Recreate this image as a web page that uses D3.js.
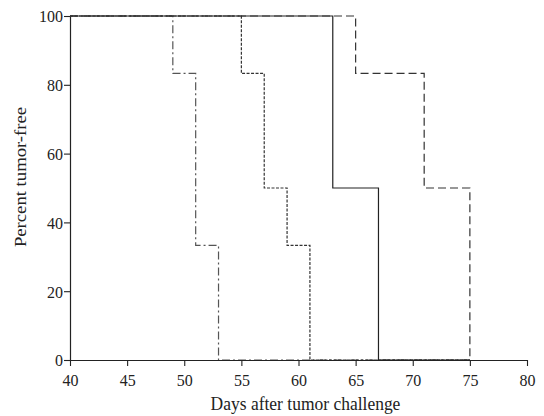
<!DOCTYPE html>
<html>
<head>
<meta charset="utf-8">
<script src="https://cdn.jsdelivr.net/npm/d3@7"></script>
<style>
  body { margin: 0; background: #fff; }
  text { font-family: "Liberation Serif", "Times New Roman", serif; }
</style>
</head>
<body>
<div id="chart"></div>
<script>
// step points: [day, percent] for each group
const groupA = [[40, 100], [49, 100], [49, 83.3], [51, 83.3], [51, 33.3], [53, 33.3], [53, 0], [75, 0]];
const groupB = [[40, 100], [55, 100], [55, 83.3], [57, 83.3], [57, 50], [59, 50], [59, 33.3], [61, 33.3], [61, 0], [75, 0]];
const groupC = [[40, 100], [63, 100], [63, 50], [67, 50], [67, 0], [75, 0]];
const groupD = [[40, 100], [65, 100], [65, 83.3], [71, 83.3], [71, 50], [75, 50], [75, 0]];
const xTicks = [40, 45, 50, 55, 60, 65, 70, 75, 80];
const yTicks = [0, 20, 40, 60, 80, 100];

let margin = { top: 16, right: 17, bottom: 56, left: 70 };
let width = 544 - margin.left - margin.right;
let height = 416 - margin.top - margin.bottom;
let stretch = 1.1; // text in the original is a bit taller than wide

let svg = d3.select("#chart")
    .append("svg")
    .attr("width", 544)
    .attr("height", 416)
    .append("g")
    .attr("transform", "translate(" + margin.left + "," + margin.top + ")");

let x = d3.scaleLinear().domain([40, 80]).range([0, width]);
let y = d3.scaleLinear().domain([0, 100]).range([height, 0]);

let line = d3.line()
    .x(d => x(d[0]))
    .y(d => y(d[1]));

let series = [
    { data: groupA, dash: "8,3,2,3", color: "#555" },
    { data: groupB, dash: "3,1.5", color: "#333" },
    { data: groupC, dash: null, color: "#222" },
    { data: groupD, dash: "8,4", color: "#333" }
];

series.forEach(s => {
    svg.append("path")
        .datum(s.data)
        .attr("d", line)
        .attr("fill", "none")
        .attr("stroke", s.color)
        .attr("stroke-width", 1.2)
        .attr("stroke-dasharray", s.dash);
});

let xAxis = svg.append("g")
    .attr("transform", "translate(0," + height + ")")
    .call(d3.axisBottom(x).tickValues(xTicks).tickSize(6).tickSizeOuter(0).tickFormat(d3.format("d")));
let yAxis = svg.append("g")
    .call(d3.axisLeft(y).tickValues(yTicks).tickSize(6).tickSizeOuter(0));

[xAxis, yAxis].forEach(a => {
    a.select(".domain").attr("stroke", "#222").attr("stroke-width", 1.2);
    a.selectAll(".tick line").attr("stroke", "#222").attr("stroke-width", 1.1);
    a.selectAll(".tick text")
        .attr("font-size", 16)
        .attr("fill", "#222")
        .style("font-family", "'Liberation Serif', serif");
});
xAxis.selectAll(".tick text")
    .attr("y", 0)
    .attr("dy", 0)
    .attr("transform", "translate(0,26) scale(1," + stretch + ")");
yAxis.selectAll(".tick text")
    .attr("x", 0)
    .attr("dy", "0.33em")
    .attr("transform", "translate(-7,0) scale(1," + stretch + ")");

svg.append("text")
    .attr("transform", "translate(" + (width / 2 + 7) + "," + (height + 50) + ") scale(1," + stretch + ")")
    .attr("text-anchor", "middle")
    .attr("font-size", 17.5)
    .attr("fill", "#222")
    .text("Days after tumor challenge");

svg.append("text")
    .attr("transform", "translate(-44," + (177 - margin.top) + ") scale(1," + stretch + ") rotate(-90)")
    .attr("text-anchor", "middle")
    .attr("font-size", 17)
    .attr("fill", "#222")
    .text("Percent tumor-free");
</script>
</body>
</html>
